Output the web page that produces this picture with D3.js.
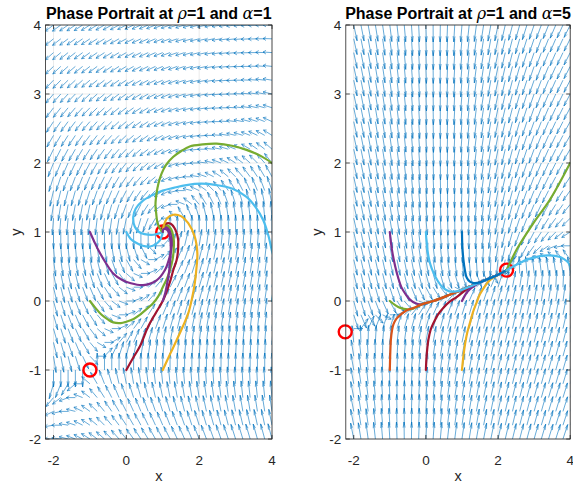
<!DOCTYPE html>
<html><head><meta charset="utf-8">
<script src="https://cdn.jsdelivr.net/npm/d3@7"></script>
<style>body{margin:0;background:#fff;overflow:hidden} svg{display:block}</style>
</head><body>
<svg id="chart" width="573" height="486"></svg>
<script>
// ---------- data ----------
const panelTitles = [["Phase Portrait at ", "ρ", "=1 and ", "α", "=1"], ["Phase Portrait at ", "ρ", "=1 and ", "α", "=5"]];
const rhoValues = [1, 1];
const alphaValues = [1, 5];
const xTickValues = [-2, 0, 2, 4];
const yTickValues = [-2, -1, 0, 1, 2, 3, 4];
const quiverX = [-2,-1.8,-1.6,-1.4,-1.2,-1,-0.8,-0.6,-0.4,-0.2,0,0.2,0.4,0.6,0.8,1,1.2,1.4,1.6,1.8,2,2.2,2.4,2.6,2.8,3,3.2,3.4,3.6,3.8,4];
const quiverY = [-2,-1.8,-1.6,-1.4,-1.2,-1,-0.8,-0.6,-0.4,-0.2,0,0.2,0.4,0.6,0.8,1,1.2,1.4,1.6,1.8,2,2.2,2.4,2.6,2.8,3,3.2,3.4,3.6,3.8,4];
const fixedPointsLeft = [[1, 1], [-1, -1]];
const fixedPointsRight = [[2.236, 0.447], [-2.236, -0.447]];

// trajectory colour names (MATLAB order)
const leftTrajColors = ["purple", "green", "darkred", "yellow", "lightblue", "lightblue", "green", "purple"];
const leftTrajectories = [
  [[-1,1],[-0.88,0.86],[-0.77,0.74],[-0.55,0.54],[-0.36,0.40],[-0.1,0.3],[0.1,0.26],[0.46,0.23],[0.83,0.3],[1.06,0.45],[1.19,0.64],[1.25,0.8],[1.24,0.95],[1.15,1.05],[1.03,1.06],[0.98,1.01],[1,1]],
  [[-1,0],[-0.85,-0.1],[-0.68,-0.2],[-0.5,-0.27],[-0.36,-0.31],[-0.15,-0.32],[0,-0.3],[0.2,-0.26],[0.37,-0.2],[0.55,-0.12],[0.74,-0.03],[0.88,0.07],[1.01,0.21],[1.12,0.33],[1.2,0.45],[1.27,0.6],[1.3,0.74],[1.3,0.9],[1.22,1.05],[1.1,1.1],[1,1.07],[0.97,1],[1,1]],
  [[0,-1],[0.18,-0.83],[0.37,-0.66],[0.6,-0.37],[0.8,-0.18],[1.01,0.01],[1.2,0.28],[1.29,0.45],[1.38,0.59],[1.42,0.74],[1.42,0.9],[1.35,1.03],[1.22,1.12],[1.08,1.12],[0.98,1.05],[1,1]],
  [[1,-1],[1.2,-0.77],[1.38,-0.57],[1.55,-0.37],[1.7,-0.18],[1.8,0.03],[1.88,0.26],[1.93,0.5],[1.95,0.69],[1.88,0.93],[1.7,1.13],[1.5,1.23],[1.29,1.25],[1.12,1.2],[1.03,1.1],[1,1]],
  [[0,1],[0.12,0.9],[0.28,0.84],[0.45,0.8],[0.65,0.79],[0.8,0.82],[0.92,0.88],[0.98,0.95],[1,1]],
  [[4,0],[4.08,0.3],[4.08,0.55],[4,0.72],[3.9,0.95],[3.76,1.17],[3.55,1.36],[3.3,1.51],[2.9,1.63],[2.48,1.68],[2.05,1.7],[1.65,1.68],[1.3,1.64],[1,1.6],[0.7,1.53],[0.45,1.45],[0.26,1.34],[0.19,1.22],[0.23,1.08],[0.35,1],[0.5,0.97],[0.74,0.96],[0.9,0.98],[1,1]],
  [[4,2],[3.7,2.1],[3.3,2.19],[2.9,2.25],[2.48,2.28],[2.1,2.27],[1.74,2.24],[1.5,2.17],[1.29,2.09],[1.1,1.98],[0.97,1.85],[0.88,1.7],[0.83,1.56],[0.8,1.4],[0.82,1.27],[0.85,1.15],[0.92,1.05],[1,1]],
  [[1,0],[1.07,0.12],[1.13,0.28],[1.18,0.45],[1.21,0.62],[1.22,0.78],[1.2,0.92],[1.12,1.03],[1.02,1.04],[1,1]]
];
const rightTrajColors = ["purple", "green", "orange", "darkred", "yellow", "purple", "lightblue", "blue", "green", "lightblue"];
const rightTrajectories = [
  [[-1,1],[-0.97,0.85],[-0.92,0.68],[-0.85,0.5],[-0.77,0.34],[-0.67,0.19],[-0.55,0.09],[-0.44,0.02],[-0.3,-0.03],[-0.16,-0.05],[0,-0.03],[0.21,0],[0.66,0.09],[1.13,0.19],[1.68,0.31],[2,0.38],[2.236,0.447]],
  [[-1,0],[-0.85,-0.06],[-0.71,-0.1],[-0.5,-0.12],[-0.35,-0.11],[-0.16,-0.06],[0,-0.03],[0.21,0],[0.66,0.09],[1.13,0.19],[1.68,0.31],[2,0.38],[2.236,0.447]],
  [[-1,-1],[-0.99,-0.8],[-0.97,-0.56],[-0.94,-0.43],[-0.9,-0.34],[-0.82,-0.26],[-0.71,-0.2],[-0.55,-0.14],[-0.35,-0.1],[-0.16,-0.06],[0,-0.03],[0.21,0],[0.66,0.09],[1.13,0.19],[1.68,0.31],[2,0.38],[2.236,0.447]],
  [[0,-1],[0.02,-0.8],[0.07,-0.56],[0.13,-0.42],[0.21,-0.32],[0.33,-0.2],[0.48,-0.1],[0.66,-0.01],[0.86,0.06],[1.13,0.17],[1.4,0.25],[1.68,0.31],[2,0.38],[2.236,0.447]],
  [[1,-1],[1.04,-0.8],[1.09,-0.61],[1.15,-0.45],[1.22,-0.32],[1.3,-0.17],[1.4,-0.03],[1.5,0.1],[1.63,0.21],[1.75,0.29],[1.87,0.34],[2,0.38],[2.236,0.447]],
  [[1,0],[1.06,0.06],[1.13,0.12],[1.22,0.17],[1.4,0.24],[1.68,0.31],[2,0.38],[2.236,0.447]],
  [[0,1],[0.02,0.85],[0.07,0.65],[0.13,0.52],[0.21,0.41],[0.33,0.29],[0.48,0.19],[0.65,0.14],[0.85,0.14],[1.13,0.19],[1.68,0.31],[2,0.38],[2.236,0.447]],
  [[1,1],[1.01,0.8],[1.04,0.6],[1.08,0.45],[1.13,0.34],[1.22,0.28],[1.32,0.26],[1.5,0.27],[1.68,0.31],[2,0.38],[2.236,0.447]],
  [[4,2],[3.44,1.47],[2.98,1.13],[2.52,0.75],[2.33,0.55],[2.236,0.447]],
  [[4,0],[4.03,0.2],[4.04,0.41],[3.98,0.53],[3.9,0.58],[3.75,0.63],[3.62,0.65],[3.4,0.66],[3.16,0.65],[2.8,0.6],[2.6,0.55],[2.42,0.5],[2.236,0.447]]
];

// ---------- styles ----------
const palette = {blue:"#0072BD", orange:"#D95319", yellow:"#EDB120", purple:"#7E2F8E", green:"#77AC30", lightblue:"#4DBEEE", darkred:"#A2142F"};
const fieldFns = [
  (x, y, rho, a) => [1 - y * y, rho * (x - a * y)],
  (x, y, rho, a) => [1 - x * y, rho * (x - a * y)]
];
const panels = [
  {left: 45.5, right: 272, traj: leftTrajectories, colors: leftTrajColors, fps: fixedPointsLeft, ylabX: 17},
  {left: 345.8, right: 570.2, traj: rightTrajectories, colors: rightTrajColors, fps: fixedPointsRight, ylabX: 318}
];
const plotTop = 25, plotBottom = 439;
const svg = d3.select("#chart");
const font = "'Liberation Sans', Arial, Helvetica, sans-serif";
const axisColor = "#262626";

panels.forEach((p, pi) => {
  const x = d3.scaleLinear().domain([-2.22, 4]).range([p.left, p.right]);
  const y = d3.scaleLinear().domain([-2, 4]).range([plotBottom, plotTop]);
  const g = svg.append("g");
  const clipId = "clip" + pi;
  g.append("clipPath").attr("id", clipId).append("rect")
    .attr("x", p.left).attr("y", plotTop).attr("width", p.right - p.left).attr("height", plotBottom - plotTop);

  // grid
  g.append("g").selectAll("line").data(xTickValues).join("line")
    .attr("x1", d => x(d)).attr("x2", d => x(d)).attr("y1", plotTop).attr("y2", plotBottom)
    .attr("stroke", "#dedede").attr("stroke-width", 0.6);
  g.append("g").selectAll("line").data(yTickValues).join("line")
    .attr("y1", d => y(d)).attr("y2", d => y(d)).attr("x1", p.left).attr("x2", p.right)
    .attr("stroke", "#dedede").attr("stroke-width", 0.6);

  const plot = g.append("g").attr("clip-path", `url(#${clipId})`);

  // quiver (normalised, MATLAB autoscale)
  const n = quiverX.length, m = quiverY.length;
  const delx = (d3.max(quiverX) - d3.min(quiverX)) / n;
  const dely = (d3.max(quiverY) - d3.min(quiverY)) / m;
  const scale = 0.9 * Math.sqrt(delx * delx + dely * dely);
  const ah = 0.33, bh = 0.33;
  let path = "";
  quiverY.forEach(yy => quiverX.forEach(xx => {
    let [u, v] = fieldFns[pi](xx, yy, rhoValues[pi], alphaValues[pi]);
    const L = Math.hypot(u, v);
    if (L === 0) return;
    u = u / L * scale; v = v / L * scale;
    const tx = xx + u, ty = yy + v;
    path += `M${x(xx).toFixed(2)},${y(yy).toFixed(2)}L${x(tx).toFixed(2)},${y(ty).toFixed(2)}`;
    const h1x = tx - ah * (u + bh * v), h1y = ty - ah * (v - bh * u);
    const h2x = tx - ah * (u - bh * v), h2y = ty - ah * (v + bh * u);
    path += `M${x(h1x).toFixed(2)},${y(h1y).toFixed(2)}L${x(tx).toFixed(2)},${y(ty).toFixed(2)}L${x(h2x).toFixed(2)},${y(h2y).toFixed(2)}`;
  }));
  plot.append("path").attr("d", path).attr("fill", "none")
    .attr("stroke", palette.blue).attr("stroke-width", 0.6);

  // fixed points (markers are not clipped, like MATLAB)
  g.append("g").selectAll("circle").data(p.fps).join("circle")
    .attr("cx", d => x(d[0])).attr("cy", d => y(d[1])).attr("r", 6.5)
    .attr("fill", "none").attr("stroke", "#FF0000").attr("stroke-width", 2.4);

  // trajectories
  const plot2 = g.append("g").attr("clip-path", `url(#${clipId})`);
  const line = d3.line().x(d => x(d[0])).y(d => y(d[1])).curve(d3.curveCatmullRom.alpha(0.5));
  plot2.selectAll("path").data(p.traj).join("path")
    .attr("d", line).attr("fill", "none")
    .attr("stroke", (d, i) => palette[p.colors[i]]).attr("stroke-width", 2.2)
    .attr("stroke-linejoin", "round").attr("stroke-linecap", "round");

  // box
  g.append("rect").attr("x", p.left).attr("y", plotTop).attr("width", p.right - p.left).attr("height", plotBottom - plotTop)
    .attr("fill", "none").attr("stroke", axisColor).attr("stroke-width", 0.8);
  // ticks
  const tl = 4;
  xTickValues.forEach(t => {
    g.append("line").attr("x1", x(t)).attr("x2", x(t)).attr("y1", plotBottom).attr("y2", plotBottom - tl).attr("stroke", axisColor).attr("stroke-width", 0.8);
    g.append("line").attr("x1", x(t)).attr("x2", x(t)).attr("y1", plotTop).attr("y2", plotTop + tl).attr("stroke", axisColor).attr("stroke-width", 0.8);
  });
  yTickValues.forEach(t => {
    g.append("line").attr("y1", y(t)).attr("y2", y(t)).attr("x1", p.left).attr("x2", p.left + tl).attr("stroke", axisColor).attr("stroke-width", 0.8);
    g.append("line").attr("y1", y(t)).attr("y2", y(t)).attr("x1", p.right).attr("x2", p.right - tl).attr("stroke", axisColor).attr("stroke-width", 0.8);
  });
  // tick labels
  g.append("g").selectAll("text").data(xTickValues).join("text")
    .attr("x", d => x(d)).attr("y", 465).attr("text-anchor", "middle")
    .attr("font-family", font).attr("font-size", 13.5).attr("fill", axisColor)
    .text(d => d < 0 ? "-" + Math.abs(d) : d);
  g.append("g").selectAll("text").data(yTickValues).join("text")
    .attr("x", p.left - 4.5).attr("y", d => y(d) + 4.8).attr("text-anchor", "end")
    .attr("font-family", font).attr("font-size", 13.5).attr("fill", axisColor)
    .text(d => d < 0 ? "-" + Math.abs(d) : d);
  // axis labels
  g.append("text").attr("x", (p.left + p.right) / 2).attr("y", 481).attr("text-anchor", "middle")
    .attr("font-family", font).attr("font-size", 14.5).attr("fill", axisColor).text("x");
  g.append("text").attr("transform", `translate(${p.ylabX},${(plotTop + plotBottom) / 2}) rotate(-90)`)
    .attr("text-anchor", "middle").attr("dy", 4)
    .attr("font-family", font).attr("font-size", 14.5).attr("fill", axisColor).text("y");
  // title
  const t = g.append("text").attr("x", (p.left + p.right) / 2).attr("y", 18.5).attr("text-anchor", "middle")
    .attr("font-family", font).attr("font-size", 16).attr("font-weight", "bold").attr("fill", "#000");
  panelTitles[pi].forEach((s, k) => {
    const ts = t.append("tspan").text(s);
    if (k === 1 || k === 3) ts.attr("font-family", "'DejaVu Serif', 'Liberation Serif', serif").attr("font-style", "italic").attr("font-weight", "normal");
  });
});
</script>
</body></html>
